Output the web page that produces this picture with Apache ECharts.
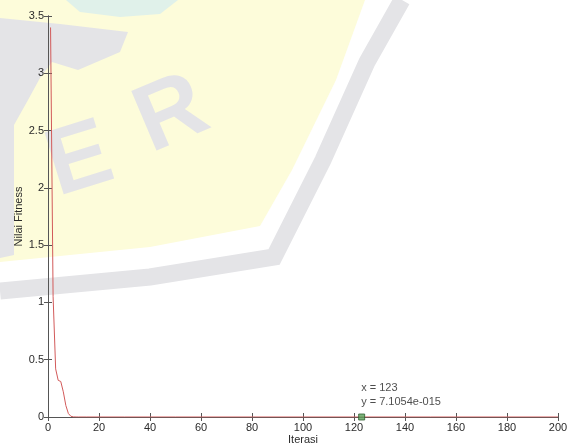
<!DOCTYPE html>
<html>
<head>
<meta charset="utf-8">
<title>Nilai Fitness per Iterasi</title>
<script src="https://cdn.jsdelivr.net/npm/echarts@6/dist/echarts.min.js"></script>
<style>
  html, body { margin: 0; padding: 0; background: #ffffff; }
  #chart { width: 574px; height: 446px; }
</style>
</head>
<body>
<div id="chart"></div>
<script>
// Fitness value of the best solution at each iteration
const iterations = [1, 2, 3, 4, 5, 6, 7, 8, 9, 10, 11, 12, 15, 20, 30, 50, 80, 100, 123, 150, 180, 200];
const fitness = [3.4, 1.05, 0.42, 0.32, 0.31, 0.22, 0.1, 0.03, 0.006, 0.001, 0.0002, 0.00005,
                 1e-6, 1e-9, 1e-12, 2e-14, 1e-14, 8e-15, 7.1054e-15, 7.1054e-15, 7.1054e-15, 7.1054e-15];

// Data tip point
const tipX = 123;
const tipY = 7.1054e-15;

// Axis tick settings
const xTicks = { min: 0, max: 200, interval: 20 };
const yTicks = { min: 0, max: 3.5, interval: 0.5 };

const lineData = iterations.map((x, i) => [x, fitness[i]]);

// MATLAB-style exponent formatting, e.g. 7.1054e-015
function matlabExp(v) {
  const s = v.toExponential(4);
  const m = s.match(/^(-?[\d.]+)e([+-])(\d+)$/);
  if (!m) return s;
  return m[1] + 'e' + m[2] + m[3].padStart(3, '0');
}

const axisColor = '#555555';
const labelStyle = { color: '#2b2b2b', fontSize: 11, fontFamily: 'Liberation Sans, Arial, sans-serif' };
const markGrey = '#e4e4e7';

const chart = echarts.init(document.getElementById('chart'), null, { renderer: 'canvas' });

chart.setOption({
  backgroundColor: '#ffffff',
  animation: false,
  // faint logo watermark behind the plot
  graphic: [
    { type: 'polygon', z: -10, silent: true,
      shape: { points: [[0, 0], [365, 0], [336, 80], [292, 170], [260, 226], [150, 247], [0, 262]] },
      style: { fill: '#fdfcda' } },
    { type: 'polygon', z: -9, silent: true,
      shape: { points: [[66, 0], [178, 0], [160, 14], [120, 17], [80, 12]] },
      style: { fill: '#e0f1ea' } },
    { type: 'polygon', z: -9, silent: true,
      shape: { points: [[0, 18], [60, 24], [128, 32], [120, 52], [78, 70], [52, 62], [40, 78], [28, 100], [14, 125], [14, 255], [0, 258]] },
      style: { fill: markGrey } },
    { type: 'polyline', z: -9, silent: true,
      shape: { points: [[0, 291], [150, 277], [274, 257], [323, 160], [367, 62], [402, 0]] },
      style: { stroke: markGrey, lineWidth: 17, fill: null } },
    { type: 'text', z: -8, silent: true, x: 80, y: 162, rotation: 0.3,
      style: { text: 'E', fill: markGrey, font: 'bold 94px Liberation Sans, Arial, sans-serif', align: 'center', verticalAlign: 'middle' } },
    { type: 'text', z: -8, silent: true, x: 172, y: 116, rotation: 0.4,
      style: { text: 'R', fill: markGrey, font: 'bold 94px Liberation Sans, Arial, sans-serif', align: 'center', verticalAlign: 'middle' } }
  ],
  grid: { left: 48, right: 16, top: 16, bottom: 29, containLabel: false, outerBoundsMode: 'none' },
  xAxis: [
    {
      type: 'value', position: 'bottom',
      min: xTicks.min, max: xTicks.max, interval: xTicks.interval,
      name: 'Iterasi', nameLocation: 'middle', nameGap: 17, nameMoveOverlap: false,
      nameTextStyle: labelStyle,
      axisLine: { lineStyle: { color: axisColor, width: 1 } },
      axisTick: { inside: true, length: 4, lineStyle: { color: axisColor } },
      axisLabel: Object.assign({ margin: 5 }, labelStyle),
      splitLine: { show: false }
    },
    {
      type: 'value', position: 'top',
      min: xTicks.min, max: xTicks.max, interval: xTicks.interval,
      axisLine: { lineStyle: { color: axisColor, width: 1 } },
      axisTick: { inside: true, length: 4, lineStyle: { color: axisColor } },
      axisLabel: { show: false },
      splitLine: { show: false }
    }
  ],
  yAxis: [
    {
      type: 'value', position: 'left',
      min: yTicks.min, max: yTicks.max, interval: yTicks.interval,
      name: 'Nilai Fitness', nameLocation: 'middle', nameGap: 24, nameMoveOverlap: false,
      nameTextStyle: labelStyle,
      axisLine: { show: true, lineStyle: { color: axisColor, width: 1 } },
      axisTick: { show: true, inside: true, length: 4, lineStyle: { color: axisColor } },
      axisLabel: Object.assign({ margin: 4 }, labelStyle),
      splitLine: { show: false }
    },
    {
      type: 'value', position: 'right',
      min: yTicks.min, max: yTicks.max, interval: yTicks.interval,
      axisLine: { show: true, lineStyle: { color: axisColor, width: 1 } },
      axisTick: { show: true, inside: true, length: 4, lineStyle: { color: axisColor } },
      axisLabel: { show: false },
      splitLine: { show: false }
    }
  ],
  series: [
    {
      type: 'line',
      xAxisIndex: 0, yAxisIndex: 0,
      data: lineData,
      showSymbol: false,
      smooth: false,
      lineStyle: { color: '#d25a5a', width: 1 },
      z: 3
    },
    {
      type: 'scatter',
      xAxisIndex: 0, yAxisIndex: 0,
      data: [[tipX, tipY]],
      symbol: 'rect',
      symbolSize: 6,
      itemStyle: { color: '#5aa05a', borderColor: '#2f5f2f', borderWidth: 1 },
      label: {
        show: true,
        position: [3, -33],
        align: 'left',
        verticalAlign: 'top',
        lineHeight: 14,
        color: '#222222',
        fontSize: 11,
        fontFamily: 'Liberation Sans, Arial, sans-serif',
        formatter: (p) => 'x = ' + p.value[0] + '\ny = ' + matlabExp(p.value[1])
      },
      z: 4
    }
  ]
});
</script>
</body>
</html>
